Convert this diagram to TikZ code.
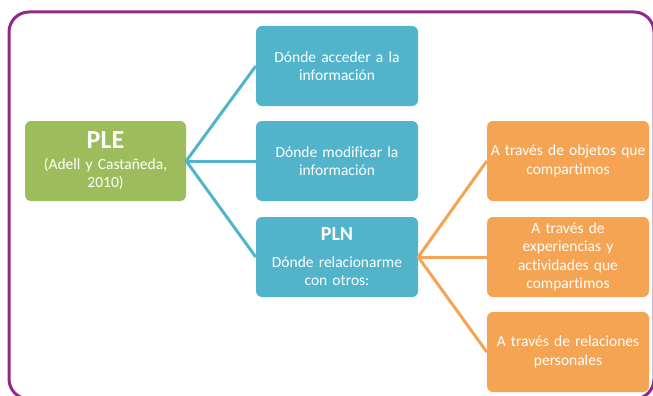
\documentclass[tikz,border=0pt]{standalone}
\usepackage{fontspec}
\setmainfont{Carlito}[Ligatures={NoCommon,NoRequired,NoContextual}]
\definecolor{frameC}{HTML}{8E2B8A}
\definecolor{greenC}{HTML}{9DBD5C}
\definecolor{blueC}{HTML}{52B4CB}
\definecolor{orangeC}{HTML}{F5A453}
\begin{document}
\begin{tikzpicture}[x=1pt,y=-1pt,
  box/.style={rounded corners=6pt, minimum height=80pt, inner sep=0pt, text=white, align=center, font=\fontsize{15.5}{18.5}\selectfont},
  greenbox/.style={box, fill=greenC, minimum width=161pt, text width=158pt},
  bluebox/.style={box, fill=blueC, minimum width=162pt, text width=158pt},
  orangebox/.style={box, fill=orangeC, minimum width=162pt, text width=161pt},
  blueline/.style={draw=blueC, line width=3pt},
  orangeline/.style={draw=orangeC, line width=3pt}]
\useasboundingbox (0,0) rectangle (653,396);
\fill[white] (0,0) rectangle (653,396);
\draw[frameC, line width=3pt, rounded corners=20pt] (9,12) rectangle (654,399);

\node[greenbox] (ple) at (105.5,161) {{\fontsize{26}{26}\selectfont\bfseries PLE}\\[2pt](Adell y Castañeda,\\2010)};

\node[bluebox] (b1) at (337,66) {Dónde acceder a la\\información};
\node[bluebox] (b2) at (337,161) {Dónde modificar la\\información};
\node[bluebox] (b3) at (337,257) {{\fontsize{20}{20}\selectfont\bfseries PLN}\\[8pt]Dónde relacionarme\\con otros:};

\node[orangebox] (o1) at (568,161) {A través de objetos que\\compartimos};
\node[orangebox] (o2) at (568,257) {A través de\\experiencias y\\actividades que\\compartimos};
\node[orangebox] (o3) at (568,352) {A través de relaciones\\personales};

\draw[blueline] (b1.west) -- (ple.east) -- (b3.west);
\draw[blueline] (ple.east) -- (b2.west);
\draw[orangeline] (o1.west) -- (b3.east) -- (o3.west);
\draw[orangeline] (b3.east) -- (o2.west);
\end{tikzpicture}
\end{document}
